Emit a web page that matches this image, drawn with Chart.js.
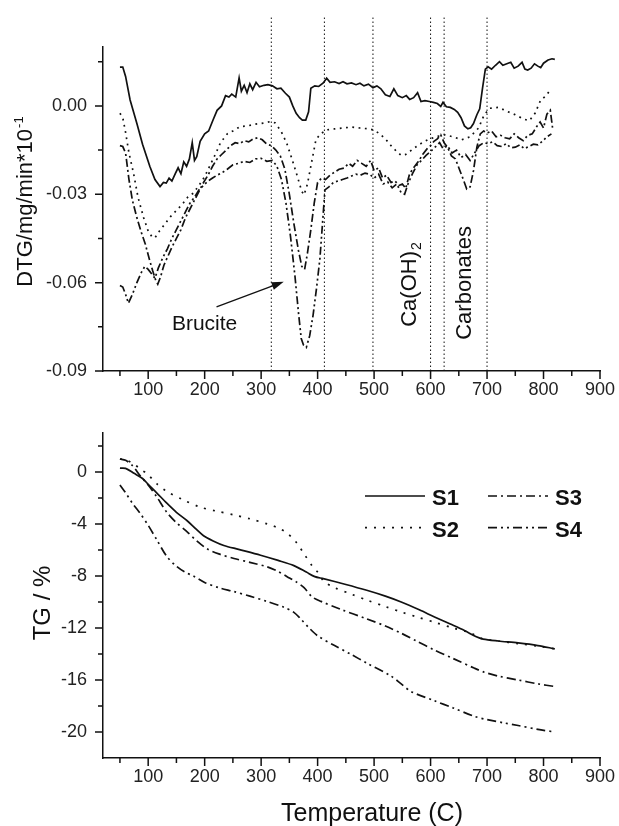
<!DOCTYPE html>
<html>
<head>
<meta charset="utf-8">
<script src="https://cdn.jsdelivr.net/npm/chart.js@4.4.0/dist/chart.umd.min.js"></script>
<style>
  html, body { margin: 0; padding: 0; background: #fff; }
  #wrap { position: relative; width: 619px; height: 826px; }
  .box { position: absolute; left: 0; width: 619px; }
  #topBox { top: 0; height: 410px; }
  #botBox { top: 410px; height: 416px; }
</style>
</head>
<body>
<div id="wrap">
  <div class="box" id="topBox"><canvas id="dtgChart"></canvas></div>
  <div class="box" id="botBox"><canvas id="tgChart"></canvas></div>
</div>
<script>
const FONT = '"Liberation Sans", Arial, Helvetica, sans-serif';
const INK = '#111';

// temperature axis, shared by both panels
const tempMajor = [100, 200, 300, 400, 500, 600, 700, 800, 900];
const tempMinor = [50, 150, 250, 350, 450, 550, 650, 750, 850];

// ---- DTG panel ----
const dtgMajor = [0, -0.03, -0.06, -0.09];
const dtgMinor = [0.015, -0.015, -0.045, -0.075];
const markerLines = [318, 412, 498, 600, 624, 700];

const s1DtgT = [50, 55, 60, 68, 80, 90, 103, 112, 121, 127, 132, 137, 142, 148, 153, 158, 163, 168, 173, 178, 182, 186, 192, 200, 207, 215, 222, 230, 237, 243, 248, 255, 261, 265, 270, 275, 280, 285, 291, 297, 305, 312, 320, 328, 335, 343, 350, 356, 362, 368, 373, 379, 384, 388, 395, 402, 410, 416, 422, 430, 438, 445, 452, 460, 468, 475, 482, 490, 498, 505, 512, 520, 528, 535, 542, 550, 557, 563, 570, 577, 583, 590, 598, 605, 612, 618, 622, 628, 635, 642, 648, 654, 660, 666, 671, 676, 682, 687, 692, 697, 702, 708, 715, 722, 728, 735, 742, 748, 755, 762, 767, 772, 778, 784, 790, 795, 800, 808, 815, 820];
const s1Dtg = [0.0132, 0.0132, 0.010, 0.002, -0.006, -0.013, -0.0206, -0.025, -0.0274, -0.026, -0.0262, -0.0245, -0.0255, -0.023, -0.021, -0.023, -0.019, -0.0205, -0.018, -0.0125, -0.0185, -0.0172, -0.012, -0.0095, -0.0085, -0.0047, -0.0015, 0.000, 0.0035, 0.003, 0.004, 0.003, 0.0095, 0.005, 0.007, 0.0045, 0.0075, 0.0055, 0.008, 0.0065, 0.007, 0.0072, 0.0068, 0.0058, 0.006, 0.0043, 0.003, 0.000, -0.0025, -0.004, -0.0048, -0.0048, -0.002, 0.006, 0.0068, 0.0066, 0.0078, 0.0094, 0.008, 0.0082, 0.0076, 0.0082, 0.0075, 0.0078, 0.0072, 0.0077, 0.0068, 0.0074, 0.0062, 0.0068, 0.0058, 0.0038, 0.0032, 0.0058, 0.0035, 0.0028, 0.0035, 0.0022, 0.0028, 0.0045, 0.0015, 0.0018, 0.0015, 0.0012, 0.0008, -0.0002, 0.0012, -0.0003, -0.0005, -0.0012, -0.0022, -0.004, -0.0068, -0.0078, -0.0074, -0.006, -0.003, -0.001, 0.006, 0.0125, 0.0133, 0.0125, 0.0138, 0.015, 0.0138, 0.0143, 0.0148, 0.0128, 0.0135, 0.0148, 0.0125, 0.0122, 0.0128, 0.0143, 0.0135, 0.013, 0.0145, 0.0156, 0.016, 0.0158];

const s2DtgT = [50, 55, 60, 66, 74, 82, 92, 100, 107, 112, 120, 130, 140, 151, 160, 170, 180, 190, 200, 210, 220, 228, 240, 250, 263, 275, 290, 305, 317, 325, 335, 345, 355, 365, 372, 376, 382, 390, 397, 405, 417, 430, 445, 460, 475, 490, 500, 510, 520, 530, 540, 548, 556, 565, 575, 585, 595, 605, 615, 625, 640, 655, 670, 685, 695, 705, 720, 735, 750, 765, 775, 785, 795, 805, 812];
const s2Dtg = [-0.0025, -0.004, -0.009, -0.016, -0.0228, -0.031, -0.038, -0.0425, -0.0445, -0.0448, -0.0425, -0.040, -0.0375, -0.0353, -0.0335, -0.031, -0.0296, -0.027, -0.024, -0.020, -0.016, -0.0125, -0.0095, -0.0085, -0.0070, -0.0068, -0.0062, -0.0058, -0.0053, -0.0058, -0.0085, -0.0125, -0.0183, -0.0245, -0.029, -0.0302, -0.0265, -0.0185, -0.0115, -0.0095, -0.0081, -0.0078, -0.0075, -0.0072, -0.0075, -0.0078, -0.0082, -0.0095, -0.0112, -0.0135, -0.0155, -0.0168, -0.0165, -0.0152, -0.0138, -0.0125, -0.0115, -0.0108, -0.0102, -0.0098, -0.0105, -0.0115, -0.0105, -0.0075, -0.003, -0.0008, -0.0005, -0.0018, -0.003, -0.0045, -0.005, -0.0025, 0.002, 0.0035, 0.0055];

const s3DtgT = [50, 55, 60, 66, 72, 80, 88, 95, 102, 108, 113, 117, 122, 128, 135, 142, 150, 158, 166, 174, 182, 190, 198, 206, 214, 222, 230, 238, 246, 254, 262, 270, 278, 286, 294, 302, 310, 318, 326, 334, 342, 350, 358, 366, 372, 377, 382, 388, 394, 400, 407, 414, 422, 430, 438, 447, 455, 462, 470, 478, 486, 494, 500, 508, 515, 522, 530, 537, 544, 550, 556, 563, 570, 578, 586, 594, 600, 606, 612, 618, 624, 630, 637, 644, 651, 658, 664, 670, 676, 682, 688, 694, 700, 708, 716, 724, 732, 740, 748, 756, 764, 772, 780, 788, 794, 800, 806, 812, 816];
const s3Dtg = [-0.0135, -0.0138, -0.016, -0.025, -0.032, -0.038, -0.043, -0.047, -0.052, -0.056, -0.059, -0.0605, -0.058, -0.054, -0.051, -0.048, -0.045, -0.042, -0.038, -0.035, -0.032, -0.029, -0.026, -0.0235, -0.0205, -0.018, -0.0165, -0.015, -0.0135, -0.0125, -0.0128, -0.0118, -0.0122, -0.0112, -0.0108, -0.0115, -0.013, -0.0135, -0.015, -0.017, -0.0215, -0.030, -0.040, -0.049, -0.0545, -0.0555, -0.050, -0.042, -0.033, -0.026, -0.0245, -0.025, -0.0235, -0.0225, -0.0215, -0.0211, -0.0195, -0.0205, -0.0185, -0.0195, -0.0205, -0.0185, -0.022, -0.021, -0.0245, -0.0235, -0.026, -0.0255, -0.027, -0.0265, -0.028, -0.023, -0.021, -0.019, -0.0165, -0.0145, -0.0135, -0.012, -0.0112, -0.0098, -0.0125, -0.014, -0.017, -0.018, -0.0215, -0.025, -0.0282, -0.0275, -0.022, -0.014, -0.0095, -0.0085, -0.0092, -0.0085, -0.0105, -0.010, -0.0108, -0.0112, -0.0095, -0.0108, -0.0118, -0.010, -0.0095, -0.007, -0.0055, -0.0075, -0.0028, -0.0015, -0.0075];

const s4DtgT = [50, 55, 60, 65, 72, 80, 88, 94, 100, 106, 112, 118, 126, 134, 142, 150, 158, 166, 174, 182, 190, 198, 206, 214, 222, 230, 240, 250, 260, 270, 280, 290, 300, 310, 320, 328, 336, 344, 352, 360, 366, 371, 375, 380, 386, 392, 398, 404, 409, 413, 420, 428, 436, 444, 452, 460, 468, 476, 484, 492, 500, 508, 516, 524, 532, 540, 548, 554, 560, 568, 576, 584, 592, 600, 608, 616, 622, 630, 638, 646, 654, 662, 670, 678, 686, 694, 702, 710, 718, 726, 734, 742, 750, 758, 766, 774, 782, 790, 798, 806, 814];
const s4Dtg = [-0.061, -0.0615, -0.064, -0.067, -0.064, -0.060, -0.0565, -0.0545, -0.0555, -0.057, -0.0585, -0.055, -0.0515, -0.0485, -0.045, -0.042, -0.039, -0.036, -0.033, -0.031, -0.0285, -0.027, -0.0255, -0.0245, -0.0235, -0.0228, -0.0215, -0.020, -0.0195, -0.0188, -0.0192, -0.018, -0.0178, -0.0188, -0.0185, -0.0205, -0.025, -0.033, -0.0443, -0.058, -0.070, -0.079, -0.0812, -0.082, -0.078, -0.071, -0.062, -0.052, -0.039, -0.0285, -0.0275, -0.026, -0.0255, -0.025, -0.0245, -0.0238, -0.0232, -0.0235, -0.0228, -0.0232, -0.0245, -0.0232, -0.0265, -0.0258, -0.0278, -0.0265, -0.0295, -0.030, -0.0265, -0.023, -0.020, -0.0185, -0.0168, -0.0155, -0.014, -0.0125, -0.0145, -0.0135, -0.016, -0.015, -0.0175, -0.0165, -0.0185, -0.016, -0.0135, -0.0125, -0.0128, -0.0122, -0.0135, -0.0138, -0.0128, -0.0142, -0.014, -0.0132, -0.0145, -0.0138, -0.013, -0.0132, -0.012, -0.0105, -0.0095];

// ---- TG panel ----
const tgMajor = [0, -4, -8, -12, -16, -20];
const tgMinor = [2, -2, -6, -10, -14, -18];

const s1TgT = [50, 60, 75, 90, 100, 115, 133, 150, 169, 185, 198, 215, 234, 260, 299, 330, 358, 380, 395, 410, 450, 487, 520, 548, 580, 607, 635, 660, 680, 693, 720, 755, 790, 820];
const s1Tg = [0.3, 0.28, -0.1, -0.5, -0.95, -1.6, -2.4, -3.1, -3.75, -4.4, -4.9, -5.3, -5.65, -5.95, -6.4, -6.8, -7.2, -7.7, -8.05, -8.2, -8.65, -9.1, -9.55, -10.0, -10.6, -11.15, -11.7, -12.2, -12.65, -12.85, -13.0, -13.15, -13.35, -13.6];

const s2TgT = [50, 60, 75, 90, 98, 115, 133, 160, 192, 220, 252, 280, 311, 330, 346, 362, 376, 390, 400, 411, 430, 460, 487, 520, 550, 576, 610, 640, 672, 690, 720, 755, 790, 820];
const s2Tg = [1.0, 0.95, 0.6, 0.1, -0.12, -0.9, -1.5, -2.1, -2.7, -3.0, -3.3, -3.6, -4.0, -4.3, -4.7, -5.4, -6.3, -7.2, -7.7, -8.4, -8.9, -9.4, -9.85, -10.35, -10.8, -11.15, -11.6, -12.0, -12.4, -12.8, -13.0, -13.2, -13.4, -13.6];

const s3TgT = [50, 60, 72, 86, 100, 115, 133, 150, 169, 186, 204, 225, 252, 280, 311, 330, 346, 362, 376, 390, 406, 440, 487, 520, 548, 575, 607, 640, 678, 695, 720, 755, 790, 820];
const s3Tg = [1.0, 0.9, 0.5, -0.3, -1.0, -1.9, -3.1, -3.9, -4.6, -5.3, -5.9, -6.3, -6.65, -6.95, -7.3, -7.65, -8.05, -8.45, -8.9, -9.6, -9.95, -10.55, -11.3, -11.85, -12.4, -13.0, -13.7, -14.35, -15.1, -15.4, -15.7, -16.0, -16.3, -16.5];

const s4TgT = [50, 60, 72, 86, 100, 115, 133, 150, 165, 180, 200, 225, 252, 280, 310, 340, 358, 370, 385, 400, 430, 460, 487, 530, 548, 566, 607, 640, 678, 700, 730, 755, 790, 820];
const s4Tg = [-1.0, -1.6, -2.4, -3.2, -4.1, -5.2, -6.5, -7.25, -7.7, -8.0, -8.5, -8.9, -9.2, -9.55, -9.95, -10.4, -10.8, -11.3, -12.0, -12.6, -13.35, -14.05, -14.7, -15.7, -16.3, -16.9, -17.6, -18.15, -18.8, -19.05, -19.3, -19.5, -19.8, -20.0];

const seriesNames = ['S1', 'S2', 'S3', 'S4'];
const dashTop = [[], [1.8, 4.5], [8, 3, 2, 3], [8, 3, 2, 3, 2, 3]];
const dashBot = [[], [2, 7], [9, 4, 2, 4], [9, 4, 2, 4, 2, 4]];

function pts(xs, ys) {
    return xs.map((x, i) => ({ x: x, y: ys[i] }));
}

function lineSet(label, data, dash, tension) {
    return {
        label: label,
        data: data,
        borderColor: INK,
        borderWidth: 1.7,
        borderDash: dash,
        pointRadius: 0,
        tension: tension,
        fill: false
    };
}

// tick marks drawn by hand so that minor ticks can be shorter
const axisTicks = {
    id: 'axisTicks',
    afterDraw(chart, args, opts) {
        const ctx = chart.ctx;
        const xs = chart.scales.x, ys = chart.scales.y;
        const a = chart.chartArea;
        ctx.save();
        ctx.strokeStyle = INK;
        ctx.lineWidth = 1.5;
        ctx.beginPath();
        tempMajor.forEach(v => { const p = xs.getPixelForValue(v); ctx.moveTo(p, a.bottom); ctx.lineTo(p, a.bottom + 8); });
        tempMinor.forEach(v => { const p = xs.getPixelForValue(v); ctx.moveTo(p, a.bottom); ctx.lineTo(p, a.bottom + 5); });
        opts.major.forEach(v => { const p = ys.getPixelForValue(v); ctx.moveTo(a.left, p); ctx.lineTo(a.left - 8, p); });
        opts.minor.forEach(v => { const p = ys.getPixelForValue(v); ctx.moveTo(a.left, p); ctx.lineTo(a.left - 5, p); });
        ctx.stroke();
        ctx.restore();
    }
};

function xScale(h) {
    return {
        type: 'linear', min: 20, max: 900,
        grid: { display: false },
        border: { display: true, color: INK, width: 1.5 },
        afterBuildTicks: s => { s.ticks = tempMajor.map(v => ({ value: v })); },
        afterFit: s => { s.height = h; },
        ticks: { color: '#222', padding: 0, font: { family: FONT, size: 18 }, maxRotation: 0, callback: v => v }
    };
}

function yScale(min, max, major, fmt) {
    return {
        type: 'linear', min: min, max: max,
        grid: { display: false },
        border: { display: true, color: INK, width: 1.5 },
        afterBuildTicks: s => { s.ticks = major.map(v => ({ value: v })); },
        afterFit: s => { s.width = 103; },
        ticks: { color: '#222', padding: 8, font: { family: FONT, size: 18 }, callback: fmt }
    };
}

// ---- top panel: DTG ----
const dtgLabels = {
    id: 'dtgLabels',
    afterDraw(chart) {
        const ctx = chart.ctx;
        const xs = chart.scales.x, ys = chart.scales.y;
        ctx.save();
        ctx.fillStyle = INK;
        ctx.strokeStyle = INK;

        // axis title with superscript
        ctx.save();
        ctx.font = '22px ' + FONT;
        const main = 'DTG/mg/min*10';
        const w = ctx.measureText(main).width;
        ctx.font = '13px ' + FONT;
        const sw = ctx.measureText('-1').width;
        ctx.translate(32, 202 + (w + sw) / 2);
        ctx.rotate(-Math.PI / 2);
        ctx.font = '22px ' + FONT;
        ctx.fillText(main, 0, 0);
        ctx.font = '13px ' + FONT;
        ctx.fillText('-1', w + 1, -9);
        ctx.restore();

        // Brucite with arrow
        ctx.font = '21px ' + FONT;
        ctx.fillText('Brucite', xs.getPixelForValue(142), ys.getPixelForValue(-0.076));
        const x0 = xs.getPixelForValue(221), y0 = ys.getPixelForValue(-0.0682);
        const x1 = xs.getPixelForValue(340), y1 = ys.getPixelForValue(-0.0597);
        const ang = Math.atan2(y1 - y0, x1 - x0);
        ctx.lineWidth = 1.3;
        ctx.beginPath();
        ctx.moveTo(x0, y0);
        ctx.lineTo(x1 - 9 * Math.cos(ang), y1 - 9 * Math.sin(ang));
        ctx.stroke();
        ctx.beginPath();
        ctx.moveTo(x1, y1);
        ctx.lineTo(x1 - 12 * Math.cos(ang) + 4 * Math.sin(ang), y1 - 12 * Math.sin(ang) - 4 * Math.cos(ang));
        ctx.lineTo(x1 - 12 * Math.cos(ang) - 4 * Math.sin(ang), y1 - 12 * Math.sin(ang) + 4 * Math.cos(ang));
        ctx.closePath();
        ctx.fill();

        // Ca(OH)2, rotated
        ctx.save();
        ctx.translate(xs.getPixelForValue(574), ys.getPixelForValue(-0.075));
        ctx.rotate(-Math.PI / 2);
        ctx.font = '22px ' + FONT;
        ctx.fillText('Ca(OH)', 0, 0);
        const cw = ctx.measureText('Ca(OH)').width;
        ctx.font = '14px ' + FONT;
        ctx.fillText('2', cw + 1, 5);
        ctx.restore();

        // Carbonates, rotated
        ctx.save();
        ctx.translate(xs.getPixelForValue(672), ys.getPixelForValue(-0.0794));
        ctx.rotate(-Math.PI / 2);
        ctx.font = '22px ' + FONT;
        ctx.fillText('Carbonates', 0, 0);
        ctx.restore();

        ctx.restore();
    }
};

const topSets = [
    lineSet('S1', pts(s1DtgT, s1Dtg), dashTop[0], 0),
    lineSet('S2', pts(s2DtgT, s2Dtg), dashTop[1], 0),
    lineSet('S3', pts(s3DtgT, s3Dtg), dashTop[2], 0),
    lineSet('S4', pts(s4DtgT, s4Dtg), dashTop[3], 0)
];
markerLines.forEach(t => {
    topSets.push({
        label: 'marker',
        data: [{ x: t, y: -0.09 }, { x: t, y: 0.03 }],
        borderColor: INK,
        borderWidth: 1,
        borderDash: [1.5, 2.5],
        pointRadius: 0,
        clip: false
    });
});

new Chart(document.getElementById('dtgChart'), {
    type: 'line',
    data: { datasets: topSets },
    options: {
        responsive: true,
        maintainAspectRatio: false,
        animation: false,
        layout: { padding: { top: 47, right: 19, left: 0, bottom: 0 } },
        plugins: { legend: { display: false }, tooltip: { enabled: false }, axisTicks: { major: dtgMajor, minor: dtgMinor } },
        scales: {
            x: xScale(39),
            y: yScale(-0.09, 0.02, dtgMajor, v => v.toFixed(2))
        }
    },
    plugins: [axisTicks, dtgLabels]
});

// ---- bottom panel: TG ----
const tgLabels = {
    id: 'tgLabels',
    afterDraw(chart) {
        const ctx = chart.ctx;
        ctx.save();
        ctx.fillStyle = INK;
        ctx.strokeStyle = INK;

        ctx.save();
        ctx.translate(50, 193);
        ctx.rotate(-Math.PI / 2);
        ctx.font = '24px ' + FONT;
        ctx.textAlign = 'center';
        ctx.fillText('TG / %', 0, 0);
        ctx.restore();

        ctx.font = '25px ' + FONT;
        ctx.textAlign = 'center';
        ctx.fillText('Temperature (C)', 372, 411);

        // legend
        const spots = [[365, 86], [365, 117.7], [488, 86], [488, 117.7]];
        ctx.textAlign = 'left';
        ctx.font = 'bold 22px ' + FONT;
        seriesNames.forEach((name, i) => {
            const [lx, ly] = spots[i];
            ctx.beginPath();
            ctx.lineWidth = 1.7;
            ctx.setLineDash(dashBot[i]);
            ctx.moveTo(lx, ly);
            ctx.lineTo(lx + 60, ly);
            ctx.stroke();
            ctx.setLineDash([]);
            ctx.fillText(name, lx + 67, ly + 9);
        });
        ctx.restore();
    }
};

new Chart(document.getElementById('tgChart'), {
    type: 'line',
    data: {
        datasets: [
            lineSet('S1', pts(s1TgT, s1Tg), dashBot[0], 0.3),
            lineSet('S2', pts(s2TgT, s2Tg), dashBot[1], 0.3),
            lineSet('S3', pts(s3TgT, s3Tg), dashBot[2], 0.3),
            lineSet('S4', pts(s4TgT, s4Tg), dashBot[3], 0.3)
        ]
    },
    options: {
        responsive: true,
        maintainAspectRatio: false,
        animation: false,
        layout: { padding: { top: 23, right: 19, left: 0, bottom: 0 } },
        plugins: { legend: { display: false }, tooltip: { enabled: false }, axisTicks: { major: tgMajor, minor: tgMinor } },
        scales: {
            x: xScale(68),
            y: yScale(-22, 3, tgMajor, v => v)
        }
    },
    plugins: [axisTicks, tgLabels]
});
</script>
</body>
</html>
